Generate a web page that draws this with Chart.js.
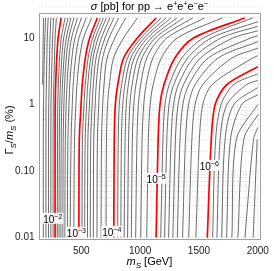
<!DOCTYPE html>
<html>
<head>
<meta charset="utf-8">
<script src="https://cdn.jsdelivr.net/npm/chart.js@4.4.1/dist/chart.umd.min.js"></script>
<style>
  html, body { margin:0; padding:0; background:#fff; }
  #wrap { width:274px; height:271px; }
</style>
</head>
<body>
<div id="wrap"><canvas id="c"></canvas></div>
<script>
/* ========= DATA ========= */
// Γ_S/m_S (%) at which each contour's mass is read
const gammaGrid = [0.01, 0.3, 1, 2, 5, 10, 20];

// m_S (GeV) of the decade contours (red), same order as gammaGrid
const redMass = [
  [277, 277, 278, 282, 291, 303, 328],
  [479, 483, 498, 508, 534, 571, 636],
  [776, 780, 789, 810, 860, 977, 1136],
  [1136, 1153, 1169, 1203, 1295, 1454, 1889],
  [1571, 1605, 1638, 1738]
];
const redExit = [null, null, null, null, 3.7];   // Γ where the line leaves at m = 2000

// intermediate contours k×10^n (black)
const lines1e2 = [
  [260, 260, 262, 266, 272, 277, 288],
  [241, 241, 242, 246, 251, 256, 264],
  [221, 221, 223, 226, 230, 234, 241],
  [199, 199, 200, 203, 207, 211, 218],
  [177, 177, 179, 181, 185, 190, 196],
  [null, null, null, 171, 174, 176, 179]
];
const lines1e3 = [
  [295, 298, 300, 305, 315, 330, 362],
  [310, 313, 317, 322, 334, 350, 387],
  [326, 329, 334, 340, 353, 372, 412],
  [343, 346, 352, 358, 372, 393, 437],
  [360, 364, 371, 379, 394, 417, 467],
  [381, 386, 395, 402, 420, 446, 500],
  [405, 413, 423, 431, 451, 480, 542],
  [436, 442, 454, 463, 485, 518, 588]
];
const lines1e4 = [
  [506, 510, 523, 534, 558, 597, 663],
  [528, 533, 545, 555, 580, 620, 688],
  [552, 556, 569, 578, 600, 643, 713],
  [576, 580, 592, 602, 625, 671, 743],
  [602, 606, 618, 627, 651, 701, 776],
  [633, 637, 648, 657, 681, 735, 818],
  [668, 672, 682, 693, 719, 785, 877],
  [710, 714, 723, 739, 774, 859, 977]
];
const lines1e5 = [
  [809, 814, 823, 843, 893, 1007, 1178],
  [836, 841, 852, 871, 921, 1034, 1220],
  [864, 872, 882, 900, 949, 1062, 1262],
  [893, 902, 913, 932, 982, 1094, 1312],
  [925, 934, 946, 965, 1016, 1129, 1370],
  [962, 973, 985, 1005, 1056, 1170, 1446],
  [1005, 1017, 1031, 1051, 1108, 1227, 1546],
  [1056, 1070, 1085, 1111, 1180, 1316, 1697]
];
const lines1e6 = [
  [1175, 1194, 1211, 1248, 1354, 1538, 1956],
  [1208, 1227, 1246, 1286, 1404, 1605],
  [1242, 1263, 1284, 1326, 1454, 1688],
  [1278, 1300, 1323, 1369, 1513, 1789],
  [1316, 1339, 1363, 1415, 1579, 1939],
  [1361, 1386, 1412, 1468, 1663],
  [1413, 1440, 1467, 1533, 1780],
  [1474, 1504, 1533, 1613, 1956]
];
const exit1e6 = [null, 17.5, 15, 12.8, 10.8, 8.8, 7, 5.4];
const lines1e7 = [
  [1616, 1642, 1688, 1797],
  [1653, 1680, 1738, 1906],
  [1693, 1722, 1797],
  [1735, 1768, 1864],
  [1780, 1818],
  [1831, 1881],
  [1891, 1964],
  [1961, 1995]
];
const exit1e7 = [2.9, 2.3, 1.8, 1.4, 1.0, 0.7, 0.45, null];

// contour labels: exponent, m_S, Γ_S/m_S
const labelExp = ['2', '3', '4', '5', '6'];
const labelMass = [257, 458, 759, 1136, 1588];
const labelGamma = [0.0185, 0.0114, 0.0118, 0.074, 0.116];

const xTickLabels = [500, 1000, 1500, 2000];
const yTickLabels = { 0.01: '0.01', 0.1: '0.10', 1: '1', 10: '10' };

/* ========= HELPERS ========= */
const toPts = (ms, exitG) => {
  const pts = [];
  ms.forEach((m, i) => { if (m != null) pts.push({ x: m, y: gammaGrid[i] }); });
  if (exitG) pts.push({ x: 2000, y: exitG });
  return pts;
};
const blackSet = (ms, exitG) => ({
  data: toPts(ms, exitG), borderColor: '#474747', borderWidth: 0.8,
  showLine: true, pointRadius: 0, tension: 0.3, fill: false
});
const redSet = (ms, exitG) => ({
  data: toPts(ms, exitG), borderColor: '#ff0000', borderWidth: 1.7,
  showLine: true, pointRadius: 0, tension: 0.3, fill: false
});

const datasets = [];
lines1e2.forEach(l => datasets.push(blackSet(l)));
lines1e3.forEach(l => datasets.push(blackSet(l)));
lines1e4.forEach(l => datasets.push(blackSet(l)));
lines1e5.forEach(l => datasets.push(blackSet(l)));
lines1e6.forEach((l, i) => datasets.push(blackSet(l, exit1e6[i])));
lines1e7.forEach((l, i) => datasets.push(blackSet(l, exit1e7[i])));
redMass.forEach((l, i) => datasets.push(redSet(l, redExit[i])));

// draw a row of text pieces (sub/superscripts) centred on cx
function rich(ctx, segs, cx, y) {
  let w = 0;
  segs.forEach(s => { ctx.font = s.f; w += ctx.measureText(s.t).width; });
  let x = cx - w / 2;
  segs.forEach(s => {
    ctx.font = s.f;
    ctx.fillText(s.t, x, y + (s.dy || 0));
    x += ctx.measureText(s.t).width;
  });
  return w;
}
const FF = '"Liberation Sans", Arial, sans-serif';
const N = n => n + 'px ' + FF, I = n => 'italic ' + n + 'px ' + FF;

const deco = {
  id: 'deco',
  afterDatasetsDraw(chart) {
    const { ctx, chartArea: a, scales: { x, y } } = chart;
    ctx.save();
    // contour labels
    ctx.textBaseline = 'alphabetic';
    labelExp.forEach((e, i) => {
      const px = x.getPixelForValue(labelMass[i]), py = y.getPixelForValue(labelGamma[i]);
      const segs = [{ t: '10', f: N(10) }, { t: '\u2212' + e, f: N(7), dy: -4 }];
      let w = 0;
      segs.forEach(s => { ctx.font = s.f; w += ctx.measureText(s.t).width; });
      ctx.fillStyle = 'rgba(255,255,255,0.9)';
      ctx.fillRect(px - w / 2 - 1, py - 7, w + 2, 11);
      ctx.fillStyle = '#000';
      rich(ctx, segs, px, py + 3.5);
    });
    // frame
    ctx.strokeStyle = '#a0a0a0';
    ctx.lineWidth = 1;
    ctx.strokeRect(Math.round(a.left) + 0.5, Math.round(a.top) + 0.5,
      Math.round(a.right - a.left) - 1, Math.round(a.bottom - a.top) - 1);
    ctx.restore();
  },
  afterDraw(chart) {
    const { ctx, chartArea: a } = chart;
    const cx = (a.left + a.right) / 2;
    ctx.save();
    ctx.fillStyle = '#000';
    ctx.textBaseline = 'alphabetic';
    // title
    rich(ctx, [
      { t: '\u03c3', f: I(11) }, { t: ' [pb] for pp \u2192 e', f: N(11) },
      { t: '+', f: N(7), dy: -4 }, { t: 'e', f: N(11) },
      { t: '+', f: N(7), dy: -4 }, { t: 'e', f: N(11) },
      { t: '\u2212', f: N(7), dy: -4 }, { t: 'e', f: N(11) },
      { t: '\u2212', f: N(7), dy: -4 }
    ], cx, 9.5);
    // x title
    rich(ctx, [
      { t: 'm', f: I(11) }, { t: 'S', f: I(8), dy: 3 }, { t: ' [GeV]', f: N(11) }
    ], cx, 265);
    // y title
    ctx.translate(12.5, 130);
    ctx.rotate(-Math.PI / 2);
    rich(ctx, [
      { t: '\u0393', f: N(11) }, { t: 'S', f: I(8), dy: 3 }, { t: '/', f: N(11) },
      { t: 'm', f: I(11) }, { t: 'S', f: I(8), dy: 3 }, { t: ' (%)', f: N(11) }
    ], 0, 0);
    ctx.restore();
  }
};

/* ========= CHART ========= */
const gridX = [];
for (let v = 200; v <= 2000; v += 100) gridX.push(v);
const gridY = [];
[0.01, 0.1, 1, 10].forEach(d => { for (let k = 1; k <= 9; k++) gridY.push(+(d * k).toPrecision(3)); });
gridY.push(20);

new Chart(document.getElementById('c'), {
  type: 'scatter',
  data: { datasets },
  options: {
    responsive: true,
    maintainAspectRatio: false,
    animation: false,
    devicePixelRatio: 1,
    layout: { padding: { left: 0, right: 10.5, top: 13.3, bottom: 0 } },
    plugins: { legend: { display: false }, tooltip: { enabled: false } },
    scales: {
      x: {
        type: 'linear', min: 136, max: 2021,
        afterBuildTicks: s => { s.ticks = gridX.map(v => ({ value: v })); },
        afterFit: s => { s.height = 31; },
        ticks: {
          autoSkip: false, maxRotation: 0, padding: 5, color: '#222',
          font: { size: 10, family: FF },
          callback: v => xTickLabels.includes(v) ? String(v) : ''
        },
        grid: { color: '#d8d8d8', drawTicks: false, lineWidth: 0.8 },
        border: { display: false, dash: [1, 2] }
      },
      y: {
        type: 'logarithmic', min: 0.0092, max: 23.5,
        afterBuildTicks: s => { s.ticks = gridY.map(v => ({ value: v })); },
        afterFit: s => { s.width = 38.5; },
        ticks: {
          autoSkip: false, padding: 4, color: '#222',
          font: { size: 10, family: FF },
          callback: v => yTickLabels[v] || ''
        },
        grid: { color: '#d8d8d8', drawTicks: false, lineWidth: 0.8 },
        border: { display: false, dash: [1, 2] }
      }
    }
  },
  plugins: [deco]
});
</script>
</body>
</html>
